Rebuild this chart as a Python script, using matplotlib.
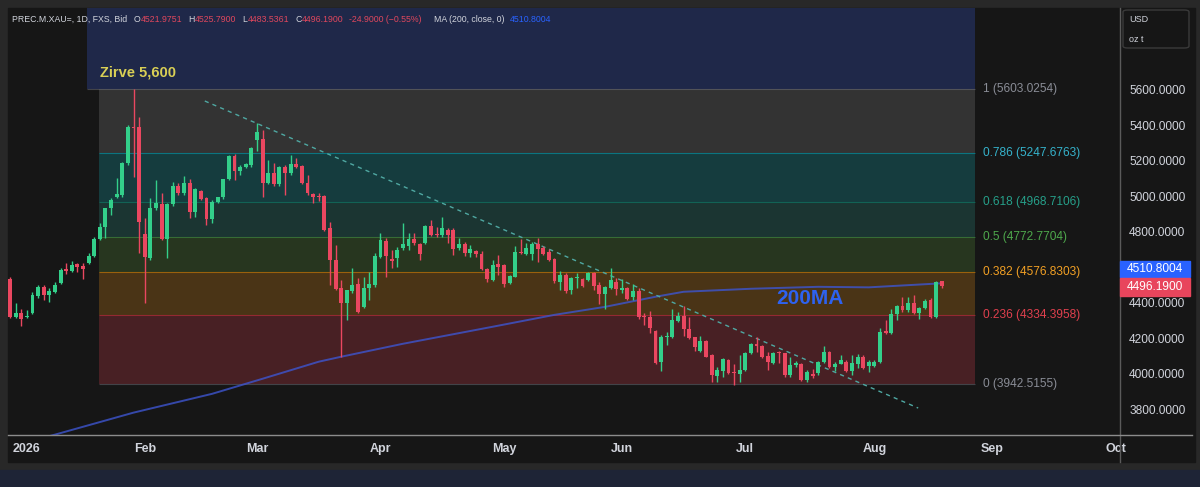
import numpy as np
import pandas as pd
import matplotlib
matplotlib.use('Agg')
import matplotlib.pyplot as plt
from matplotlib.patches import Rectangle, FancyBboxPatch
from matplotlib.lines import Line2D

plt.rcParams['font.family'] = ['Liberation Sans', 'DejaVu Sans']

# daily bars (weekdays only), 30 Dec 2025 .. 20 Aug 2026
opens = [
    4536, 4322, 4344, 4322, 4344, 4440, 4491, 4446, 4463, 4513,
    4592, 4581, 4620, 4609, 4626, 4665, 4761, 4829, 4936, 4998,
    5009, 5189, 5392, 5392, 4789, 4654, 4936, 4958, 4761, 4958,
    5060, 5020, 5076, 4913, 5031, 4992, 4874, 4969, 4998, 5099,
    5228, 5144, 5166, 5178, 5319, 5324, 5076, 5133, 5071, 5166,
    5133, 5183, 5172, 5076, 5014, 5000, 5003, 4823, 4643, 4485,
    4401, 4468, 4508, 4378, 4485, 4502, 4660, 4750, 4649, 4654,
    4710, 4722, 4761, 4733, 4739, 4834, 4787, 4784, 4812, 4812,
    4710, 4733, 4682, 4694, 4677, 4592, 4530, 4620, 4615, 4513,
    4547, 4688, 4677, 4677, 4733, 4710, 4688, 4649, 4519, 4558,
    4474, 4542, 4536, 4530, 4570, 4502, 4452, 4485, 4519, 4474,
    4485, 4435, 4468, 4328, 4322, 4243, 4069, 4209, 4209, 4299,
    4328, 4254, 4209, 4131, 4187, 4108, 3990, 4018, 4080, 4013,
    4001, 4024, 4119, 4170, 4159, 4102, 4063, 4125, 4119, 3996,
    4052, 4057, 3967, 4001, 4007, 4069, 4125, 4041, 4057, 4069,
    4018, 4057, 4097, 4046, 4046, 4069, 4243, 4232, 4339, 4384,
    4361, 4401, 4344, 4373, 4418, 4322, 4521.9751]
highs = [
    4547, 4401, 4367, 4361, 4463, 4502, 4502, 4485, 4519, 4598,
    4626, 4637, 4626, 4626, 4682, 4772, 4851, 4936, 4992, 5105,
    5195, 5403, 5603, 5448, 4879, 4992, 5093, 5020, 4964, 5082,
    5076, 5116, 5099, 5048, 5037, 4998, 4981, 4998, 5099, 5234,
    5240, 5178, 5189, 5279, 5414, 5375, 5206, 5189, 5172, 5178,
    5234, 5217, 5178, 5121, 5020, 5020, 5009, 4857, 4727, 4530,
    4474, 4598, 4542, 4547, 4575, 4682, 4795, 4767, 4699, 4716,
    4851, 4795, 4795, 4739, 4840, 4868, 4829, 4885, 4823, 4823,
    4767, 4744, 4727, 4699, 4694, 4598, 4643, 4671, 4620, 4558,
    4722, 4761, 4739, 4744, 4767, 4722, 4705, 4654, 4581, 4570,
    4547, 4570, 4542, 4575, 4575, 4519, 4497, 4598, 4542, 4536,
    4491, 4508, 4485, 4344, 4356, 4249, 4221, 4238, 4367, 4350,
    4384, 4322, 4209, 4215, 4193, 4114, 4041, 4091, 4086, 4058,
    4108, 4125, 4176, 4209, 4164, 4125, 4125, 4131, 4119, 4097,
    4074, 4063, 4024, 4029, 4074, 4159, 4131, 4069, 4108, 4080,
    4108, 4114, 4108, 4080, 4080, 4260, 4305, 4367, 4390, 4435,
    4435, 4446, 4378, 4423, 4429, 4525, 4525.7900]
lows = [
    4316, 4316, 4271, 4316, 4339, 4429, 4418, 4406, 4457, 4508,
    4564, 4575, 4575, 4536, 4620, 4660, 4756, 4767, 4896, 4992,
    4998, 5178, 5110, 4682, 4401, 4643, 4924, 4756, 4654, 4947,
    5009, 5009, 4879, 4885, 4981, 4840, 4851, 4964, 4986, 5093,
    5093, 5121, 5161, 5166, 5257, 4998, 5071, 5060, 5060, 5009,
    5121, 5161, 5071, 5009, 4964, 4975, 4806, 4502, 4474, 4097,
    4305, 4457, 4344, 4373, 4418, 4491, 4654, 4547, 4598, 4603,
    4699, 4699, 4727, 4643, 4733, 4778, 4772, 4772, 4739, 4671,
    4699, 4665, 4660, 4660, 4587, 4519, 4525, 4558, 4491, 4508,
    4547, 4677, 4671, 4643, 4632, 4671, 4637, 4513, 4474, 4457,
    4451, 4485, 4491, 4525, 4474, 4395, 4367, 4480, 4446, 4457,
    4418, 4418, 4311, 4277, 4232, 4057, 4018, 4164, 4204, 4294,
    4215, 4198, 4131, 4125, 4097, 3956, 3956, 3984, 4001, 3939,
    3956, 4018, 4114, 4125, 4091, 4024, 4057, 4063, 3984, 3984,
    4041, 3962, 3956, 3979, 3996, 4063, 4035, 4018, 4057, 4013,
    3996, 4035, 4029, 4013, 4041, 4063, 4226, 4226, 4305, 4350,
    4350, 4339, 4311, 4367, 4316, 4316, 4483.5361]
closes = [
    4322, 4344, 4311, 4328, 4446, 4491, 4446, 4468, 4502, 4587,
    4581, 4615, 4603, 4592, 4665, 4761, 4829, 4936, 4981, 5014,
    5189, 5392, 5386, 4857, 4660, 4936, 4964, 4761, 4958, 5060,
    5020, 5076, 4913, 5043, 4986, 4874, 4969, 4998, 5099, 5228,
    5144, 5166, 5183, 5273, 5364, 5076, 5133, 5071, 5166, 5133,
    5183, 5166, 5076, 5020, 4998, 4995, 4812, 4643, 4480, 4401,
    4474, 4502, 4350, 4485, 4508, 4665, 4756, 4665, 4637, 4699,
    4733, 4761, 4739, 4677, 4834, 4784, 4782, 4823, 4784, 4705,
    4733, 4682, 4705, 4677, 4592, 4536, 4615, 4603, 4508, 4553,
    4688, 4682, 4710, 4733, 4705, 4677, 4643, 4525, 4558, 4468,
    4542, 4547, 4497, 4570, 4497, 4452, 4491, 4530, 4480, 4485,
    4423, 4468, 4322, 4322, 4260, 4063, 4209, 4215, 4305, 4328,
    4254, 4204, 4153, 4187, 4097, 3996, 4024, 4086, 4007, 4007,
    4024, 4119, 4170, 4159, 4097, 4069, 4119, 4119, 3996, 4052,
    4063, 3967, 4013, 3990, 4069, 4125, 4041, 4057, 4080, 4018,
    4063, 4097, 4035, 4069, 4069, 4238, 4232, 4339, 4384, 4361,
    4401, 4344, 4373, 4412, 4322, 4519, 4496.1900]

# 200-day MA, read at a few bars (bar number, value)
ma_bar = [0, 8, 22, 36, 45, 55, 59, 70, 86, 97, 106, 115, 120, 132, 144, 153, 166]
ma_val = [3590, 3658, 3782, 3888, 3973, 4069, 4097, 4170, 4266, 4333, 4378,
          4435, 4463, 4480, 4491, 4488, 4510.8]

fib_levels = ['0', '0.236', '0.382', '0.5', '0.618', '0.786', '1']
fib_prices = [3942.5155, 4334.3958, 4576.8303, 4772.7704, 4968.7106, 5247.6763, 5603.0254]
fib_line_cols = ['#787b86', '#f23645', '#ff9800', '#4caf50', '#089981', '#00bcd4', '#787b86']
fib_text_cols = ['#8a8d96', '#e0404e', '#f2a024', '#4ea84c', '#26a08a', '#35b3cc', '#8a8d96']
band_cols = ['#482024', '#4a3416', '#27361f', '#1b3532', '#153c3e', '#333333']
top_band_col = '#1f2849'

# trend line (bar, price)
trend_bar = [34.7, 161.8]
trend_val = [5538, 3808]

price_ticks = [3800, 4000, 4200, 4400, 4800, 5000, 5200, 5400, 5600]
month_dates = ['2026-01-02', '2026-02-02', '2026-03-02', '2026-04-01', '2026-05-01',
               '2026-06-01', '2026-07-01', '2026-08-03', '2026-09-01', '2026-10-01']
month_names = ['2026', 'Feb', 'Mar', 'Apr', 'May', 'Jun', 'Jul', 'Aug', 'Sep', 'Oct']

days = pd.bdate_range('2025-12-30', '2026-10-30')
month_pos = [days.get_loc(pd.Timestamp(d)) for d in month_dates]

W, H = 1200, 487
def fx(x):
    return x / W
def fy(y):
    return 1 - y / H

fig = plt.figure(figsize=(12, 4.87), dpi=100, facecolor='#282828')
fig.add_artist(Rectangle((fx(8), fy(462)), fx(1187), 454 / H, color='#161616', zorder=-2))
fig.add_artist(Rectangle((0, 0), 1, 17 / H, color='#1e2436', zorder=-2))

ax = fig.add_axes([fx(8), fy(435), (1118 - 8) / W, (435 - 8) / H])
ax.set_facecolor('#161616')
for s in ax.spines.values():
    s.set_visible(False)
ax.set_xlim(-0.36, 197.4)
ax.set_ylim(3656, 6062)

# fib retracement bands
fx0, fx1 = 15.85, 171.9
ax.fill_between([13.7, fx1], fib_prices[-1], 6062, color=top_band_col, lw=0, zorder=0)
for i in range(len(band_cols)):
    ax.fill_between([fx0, fx1], fib_prices[i], fib_prices[i + 1], color=band_cols[i], lw=0, zorder=0)
for lvl, p, lc, tc in zip(fib_levels, fib_prices, fib_line_cols, fib_text_cols):
    ax.hlines(p, fx0 if lvl != '1' else 13.7, fx1, color=lc, lw=0.8, alpha=0.45, zorder=1)
    ax.text(173.3, p, f'{lvl} ({p:.4f})', color=tc, fontsize=8.6, va='center', ha='left')

# MA and trend line
ax.plot(ma_bar, ma_val, color='#3d55d0', lw=1.4, alpha=0.8, zorder=2)
ax.plot(trend_bar, trend_val, color='#4fa8a2', lw=1, ls=(0, (3, 3)), zorder=2)

# candles
o = np.array(opens)
h = np.array(highs)
l = np.array(lows)
c = np.array(closes)
x = np.arange(len(c))
up = c >= o
cols = np.where(up, '#33cf8a', '#ea4760')
ax.vlines(x, l, h, colors=cols, lw=1, zorder=3)
body_lo = np.minimum(o, c)
body_h = np.maximum(np.abs(c - o), 6)
ax.bar(x, body_h, bottom=body_lo, width=0.7, color=cols, lw=0, zorder=4)

ax.text(16.0, 5696, 'Zirve 5,600', color='#d9cf55', fontsize=10.5, fontweight='bold',
        va='center', ha='left')
ax.text(142.5, 4423, '200MA', color='#2e62f0', fontsize=15, fontweight='bold',
        va='center', ha='center', zorder=5)

# axes ticks
ax.yaxis.tick_right()
ax.set_yticks(price_ticks)
ax.set_yticklabels([f'{v:.4f}' for v in price_ticks])
ax.tick_params(axis='y', length=0, pad=8, labelcolor='#d1d4dc', labelsize=8.6)
ax.set_xticks(month_pos)
ax.set_xticklabels(month_names, fontweight='bold')
ax.tick_params(axis='x', length=0, pad=6, labelcolor='#d1d4dc', labelsize=9)

# frame lines
fig.add_artist(Line2D([fx(1120), fx(1120)], [fy(8), fy(462)], color='#5a5a5a', lw=1))
fig.add_artist(Line2D([fx(8), fx(1192)], [fy(435), fy(435)], color='#8c8c8c', lw=1))

# price tags
fig.add_artist(Rectangle((fx(1120), fy(277)), fx(70), 16 / H, color='#2962ff', zorder=5))
fig.text(fx(1155), fy(269), '4510.8004', color='white', fontsize=8.6, ha='center', va='center', zorder=6)
fig.add_artist(Rectangle((fx(1120), fy(296)), fx(70), 18 / H, color='#e8455c', zorder=5))
fig.text(fx(1155), fy(287), '4496.1900', color='white', fontsize=8.6, ha='center', va='center', zorder=6)

# unit box
fig.add_artist(FancyBboxPatch((fx(1123), fy(48)), fx(66), 38 / H,
                              boxstyle='round,pad=0,rounding_size=0.004',
                              ec='#3a3a3a', fc='#161616', lw=1, zorder=5))
fig.text(fx(1129), fy(20), 'USD', color='#d1d4dc', fontsize=6.5, va='center', zorder=6)
fig.text(fx(1129), fy(40), 'oz t', color='#d1d4dc', fontsize=6.5, va='center', zorder=6)

# header legend, pieces laid out one after another
gray, red, blue = '#d1d4dc', '#e0475d', '#2962ff'
hdr = [('PREC.M.XAU=, 1D, FXS, Bid', gray, 6), ('O', gray, 0.5), ('4521.9751', red, 6),
       ('H', gray, 0.5), ('4525.7900', red, 6), ('L', gray, 0.5), ('4483.5361', red, 6),
       ('C', gray, 0.5), ('4496.1900', red, 5), ('-24.9000 (\u22120.55%)', red, 13),
       ('MA (200, close, 0)', gray, 5), ('4510.8004', blue, 0)]
renderer = fig.canvas.get_renderer()
cur = 12
for t, col, gap in hdr:
    txt = fig.text(fx(cur), fy(19), t, color=col, fontsize=6.3, va='center', ha='left')
    cur += txt.get_window_extent(renderer).width + gap

fig.savefig('out.png', dpi=100, facecolor=fig.get_facecolor())
